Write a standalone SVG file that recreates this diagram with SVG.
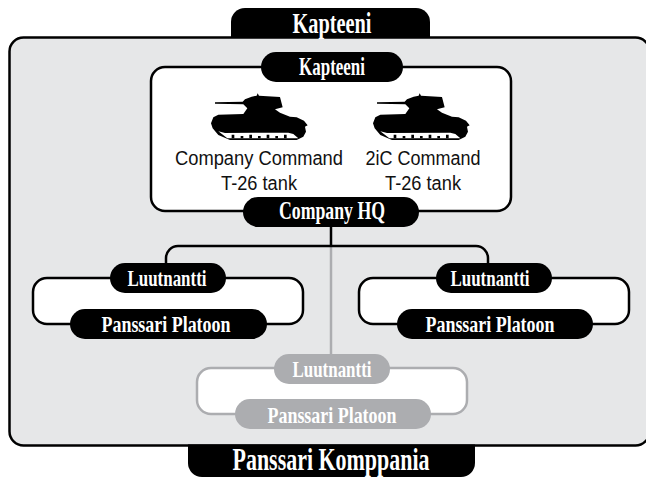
<svg xmlns="http://www.w3.org/2000/svg" width="646" height="478" viewBox="0 0 646 478">
<style>
.box{fill:#fff;stroke:#000;stroke-width:2.5}
.pill{fill:#000}
.g .box{stroke:#acadb0}
.g .pill{fill:#acadb0}
.bl{font-family:"Liberation Serif","DejaVu Serif",serif;font-weight:bold;fill:#fff;text-anchor:middle}
.lb{font-family:"Liberation Sans",Roboto,sans-serif;font-size:20px;fill:#111;text-anchor:middle}
.c{fill:none;stroke:#000;stroke-width:2.5}
</style>
<defs>
<g id="tank" transform="scale(0.3333)">
<path fill="#000" d="M195 307 L278 305 L285 298 L305 290 L320 287 L323 280 L327 287 L390 291 L398 322 L375 328 L390 338 L420 350 L440 352 L462 362 L473 376 L465 380 L468 395 L460 410 L440 420 L240 420 L205 405 L188 385 L183 370 L190 352 L205 344 L280 342 L292 325 L280 313 L195 311Z"/>
<path fill="#fff" d="M205 394 L232 415 L445 415 L430 402 L415 398 L225 399Z"/>
<path fill="#000" d="M245 404h8v11h-8zM272 408h8v7h-8zM298 404h8v11h-8zM324 408h8v7h-8zM350 404h8v11h-8zM376 408h8v7h-8zM402 404h8v11h-8z"/>
</g>
</defs>
<g id="company-panel">
<path fill="#000" d="M231 38V22a14 14 0 0 1 14-14H416a14 14 0 0 1 14 14V38Z"/>
<path fill="#000" d="M188 444H475V463a14 14 0 0 1-14 14H202a14 14 0 0 1-14-14Z"/>
<rect x="9.500" y="37.500" width="640" height="408" rx="14" fill="#e6e7e8" stroke="#000" stroke-width="2.500"/>
<path fill="#000" d="M188 444.500H475V447H188Z"/>
<text class="bl" x="332" y="33" font-size="30" textLength="79" lengthAdjust="spacingAndGlyphs">Kapteeni</text>
<text class="bl" x="331" y="470" font-size="31" textLength="197" lengthAdjust="spacingAndGlyphs">Panssari Komppania</text>
</g>
<g id="connectors">
<path d="M331 246V354" fill="none" stroke="#acadb0" stroke-width="2.500"/>
<path class="c" d="M331 227V246M166 264V258a12 12 0 0 1 12-12H476a12 12 0 0 1 12 12V264"/>
</g>
<g id="hq">
<rect class="box" x="151" y="67" width="360" height="144" rx="14"/>
<rect class="pill" x="261" y="52" width="142" height="30" rx="15"/>
<rect class="pill" x="243" y="197" width="176" height="30" rx="15"/>
<text class="bl" x="332" y="75" font-size="25" textLength="66" lengthAdjust="spacingAndGlyphs">Kapteeni</text>
<text class="bl" x="332" y="219" font-size="25" textLength="106" lengthAdjust="spacingAndGlyphs">Company HQ</text>
<use href="#tank" x="150" y="0"/>
<use href="#tank" x="312" y="0"/>
<text class="lb" x="259" y="165" textLength="168" lengthAdjust="spacingAndGlyphs">Company Command</text>
<text class="lb" x="259" y="190" textLength="76" lengthAdjust="spacingAndGlyphs">T-26 tank</text>
<text class="lb" x="423" y="165" textLength="115" lengthAdjust="spacingAndGlyphs">2iC Command</text>
<text class="lb" x="423" y="190" textLength="76" lengthAdjust="spacingAndGlyphs">T-26 tank</text>
</g>
<g id="platoon-left">
<rect class="box" x="33" y="278" width="270" height="46" rx="14"/>
<rect class="pill" x="110" y="263" width="116" height="30" rx="15"/>
<rect class="pill" x="70" y="309" width="197" height="30" rx="15"/>
<text class="bl" x="167" y="286" font-size="24" textLength="79" lengthAdjust="spacingAndGlyphs">Luutnantti</text>
<text class="bl" x="166" y="332" font-size="24" textLength="129" lengthAdjust="spacingAndGlyphs">Panssari Platoon</text>
</g>
<g id="platoon-right">
<rect class="box" x="359" y="278" width="270" height="46" rx="14"/>
<rect class="pill" x="436" y="263" width="116" height="30" rx="15"/>
<rect class="pill" x="397" y="309" width="196" height="30" rx="15"/>
<text class="bl" x="490" y="286" font-size="24" textLength="79" lengthAdjust="spacingAndGlyphs">Luutnantti</text>
<text class="bl" x="490" y="332" font-size="24" textLength="129" lengthAdjust="spacingAndGlyphs">Panssari Platoon</text>
</g>
<g id="platoon-optional" class="g">
<rect class="box" x="197" y="368" width="270" height="46" rx="14"/>
<rect class="pill" x="274" y="354" width="116" height="30" rx="15"/>
<rect class="pill" x="235" y="399" width="196" height="30" rx="15"/>
<text class="bl" x="332" y="377" font-size="24" textLength="79" lengthAdjust="spacingAndGlyphs">Luutnantti</text>
<text class="bl" x="332" y="423" font-size="24" textLength="129" lengthAdjust="spacingAndGlyphs">Panssari Platoon</text>
</g>
</svg>
